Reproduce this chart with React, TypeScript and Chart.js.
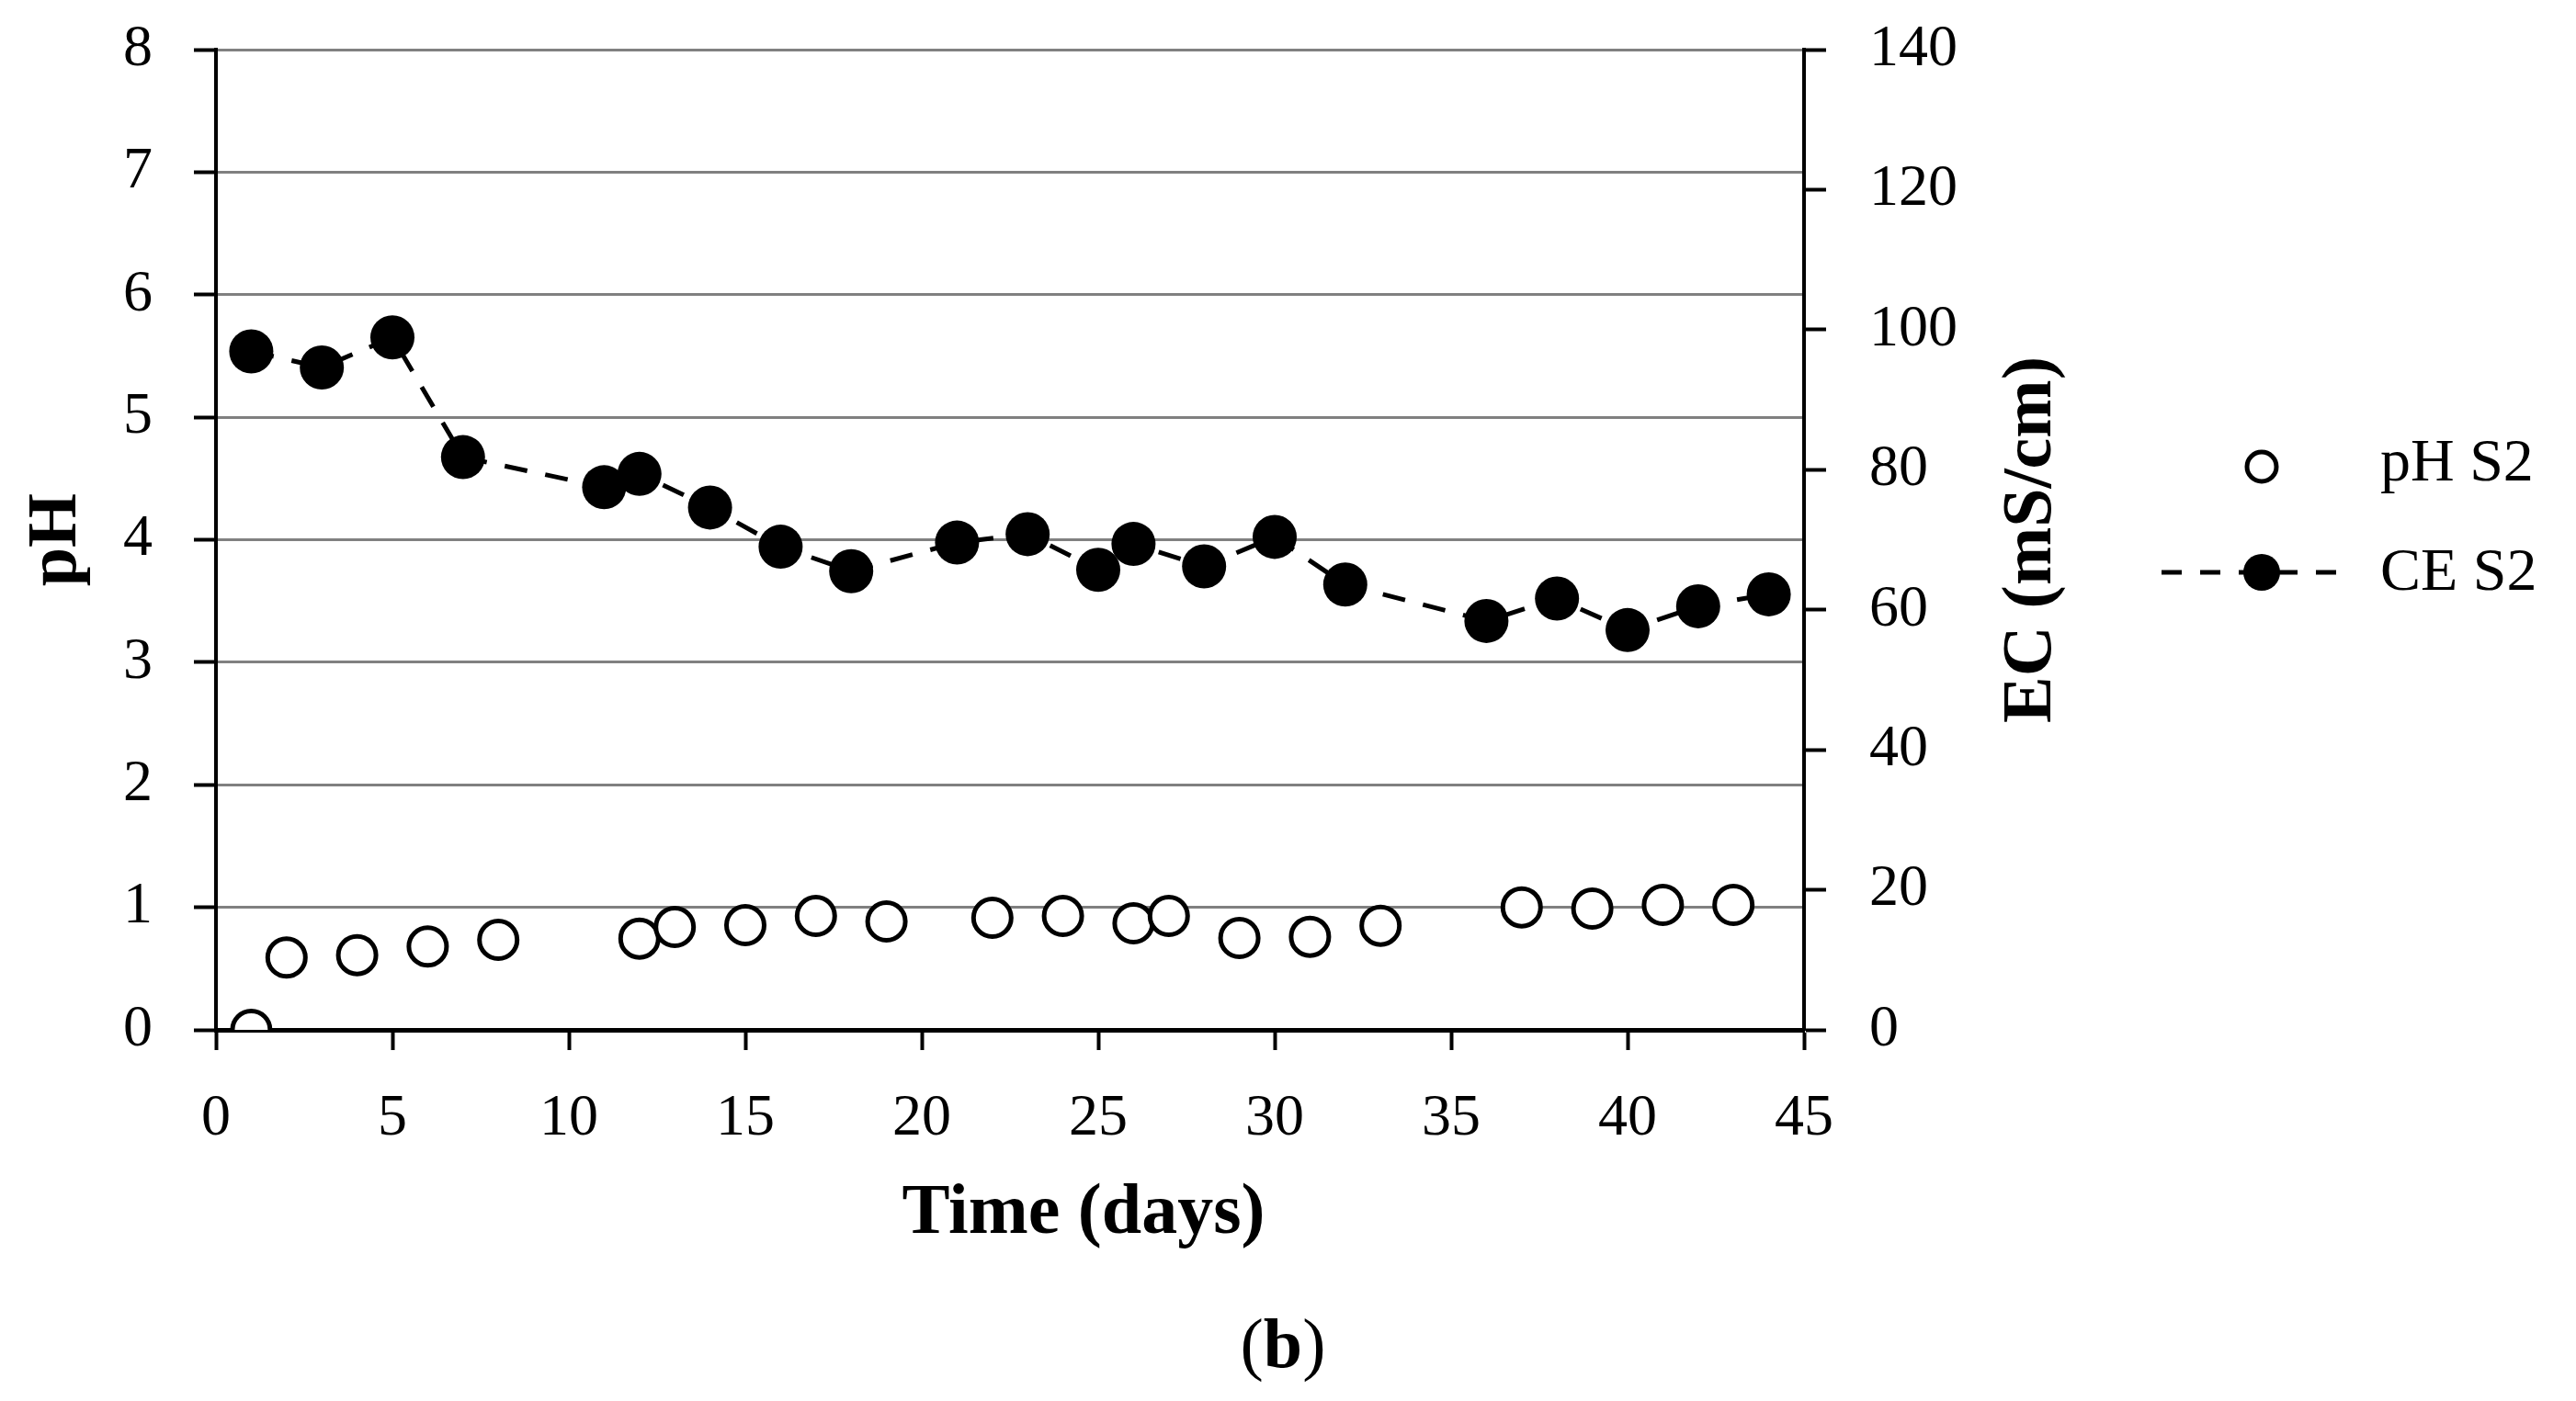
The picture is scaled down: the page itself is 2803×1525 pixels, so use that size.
import React, { useEffect, useRef } from "react";
import { Chart, registerables } from "chart.js";

Chart.register(...registerables);

// ---- data ----
const phDays = [1, 2, 4, 6, 8, 12, 13, 15, 17, 19, 22, 24, 26, 27, 29, 31, 33, 37, 39, 41, 43];
const phValues = [0, 0.59, 0.61, 0.68, 0.735, 0.745, 0.84, 0.855, 0.93, 0.885, 0.915, 0.93, 0.87, 0.93, 0.75, 0.76, 0.85, 1.0, 0.99, 1.02, 1.02];
const ecDays = [1, 3, 5, 7, 11, 12, 14, 16, 18, 21, 23, 25, 26, 28, 30, 32, 36, 38, 40, 42, 44];
const ecValues = [96.9, 94.6, 98.9, 81.8, 77.5, 79.4, 74.6, 69.0, 65.5, 69.6, 70.8, 65.7, 69.4, 66.2, 70.4, 63.6, 58.4, 61.6, 57.1, 60.5, 62.2];

const seriesLabels = ["pH S2", "CE S2"];
const xTitle = "Time (days)";
const yTitle = "pH";
const y2Title = "EC (mS/cm)";
const captionLetter = "b";

const SERIF = "'Liberation Serif', 'Times New Roman', serif";

export default function App() {
  const ref = useRef<HTMLCanvasElement>(null);

  useEffect(() => {
    document.body.style.margin = "0";
    document.body.style.overflow = "hidden";
    const canvas = ref.current;
    if (!canvas) return;

    const extras = {
      id: "extras",
      afterDraw(chart: any) {
        const ctx = chart.ctx as CanvasRenderingContext2D;
        const area = chart.chartArea;
        // x axis title (offset right, as in the original layout)
        ctx.save();
        ctx.fillStyle = "#000";
        ctx.font = `bold 78px ${SERIF}`;
        ctx.textAlign = "center";
        ctx.textBaseline = "middle";
        ctx.fillText(xTitle, 1179, 1322);
        ctx.restore();

        // right axis title (reads bottom-to-top)
        ctx.save();
        ctx.fillStyle = "#000";
        ctx.font = `bold 76px ${SERIF}`;
        ctx.translate(2211, (area.top + area.bottom) / 2);
        ctx.rotate(-Math.PI / 2);
        ctx.textAlign = "center";
        ctx.textBaseline = "middle";
        ctx.fillText(y2Title, 0, 0);
        ctx.restore();

        // legend
        ctx.save();
        const mx = 2461;
        ctx.beginPath();
        ctx.arc(mx, 508, 16, 0, Math.PI * 2);
        ctx.fillStyle = "#fff";
        ctx.fill();
        ctx.lineWidth = 5;
        ctx.strokeStyle = "#000";
        ctx.stroke();
        ctx.beginPath();
        ctx.setLineDash([22, 20]);
        ctx.lineWidth = 5;
        ctx.moveTo(2352, 623);
        ctx.lineTo(2562, 623);
        ctx.stroke();
        ctx.setLineDash([]);
        ctx.beginPath();
        ctx.arc(mx, 623, 20, 0, Math.PI * 2);
        ctx.fillStyle = "#000";
        ctx.fill();
        ctx.font = `66px ${SERIF}`;
        ctx.textAlign = "left";
        ctx.textBaseline = "alphabetic";
        ctx.fillText(seriesLabels[0], 2590, 523);
        ctx.fillText(seriesLabels[1], 2590, 642);
        ctx.restore();

        // caption "(b)"
        ctx.save();
        ctx.fillStyle = "#000";
        ctx.textBaseline = "middle";
        ctx.textAlign = "left";
        const reg = `76px ${SERIF}`;
        const bold = `bold 76px ${SERIF}`;
        ctx.font = reg;
        const wp = ctx.measureText("(").width;
        const wp2 = ctx.measureText(")").width;
        ctx.font = bold;
        const wb = ctx.measureText(captionLetter).width;
        const total = wp + wb + wp2;
        let cx = 1396 - total / 2;
        const cy = 1468;
        ctx.font = reg;
        ctx.fillText("(", cx, cy);
        cx += wp;
        ctx.font = bold;
        ctx.fillText(captionLetter, cx, cy);
        cx += wb;
        ctx.font = reg;
        ctx.fillText(")", cx, cy);
        ctx.restore();
      },
    };

    const chart = new Chart(canvas, {
      type: "scatter",
      data: {
        datasets: [
          {
            label: seriesLabels[1],
            type: "line",
            data: ecDays.map((d, i) => ({ x: d, y: ecValues[i] })),
            yAxisID: "y2",
            showLine: true,
            borderColor: "#000",
            borderWidth: 5,
            borderDash: [25, 20],
            pointRadius: 24,
            pointBackgroundColor: "#000",
            pointBorderColor: "#000",
            pointBorderWidth: 0,
            fill: false,
            tension: 0,
          },
          {
            label: seriesLabels[0],
            data: phDays.map((d, i) => ({ x: d, y: phValues[i] })),
            yAxisID: "y",
            showLine: false,
            pointRadius: 20.5,
            pointBorderWidth: 5,
            pointBorderColor: "#000",
            pointBackgroundColor: "#fff",
          },
        ],
      },
      options: {
        responsive: false,
        animation: false,
        devicePixelRatio: 1,
        layout: { padding: { top: 54, right: 670, bottom: 144, left: 0 } },
        plugins: {
          legend: { display: false },
          tooltip: { enabled: false },
        },
        scales: {
          x: {
            type: "linear",
            position: "bottom",
            min: 0,
            max: 45,
            afterFit: (s: any) => {
              s.height = 260;
            },
            ticks: {
              stepSize: 5,
              color: "#000",
              padding: 37,
              font: { family: SERIF, size: 64 },
            },
            grid: {
              drawOnChartArea: false,
              drawTicks: true,
              tickLength: 22,
              tickColor: "#000",
              tickWidth: 4,
            },
            border: { display: true, color: "#000", width: 5 },
            title: { display: false, text: xTitle },
          },
          y: {
            type: "linear",
            position: "left",
            min: 0,
            max: 8,
            afterFit: (s: any) => {
              s.width = 235;
              s.paddingTop = 30;
            },
            ticks: {
              stepSize: 1,
              color: "#000",
              padding: 45,
              font: { family: SERIF, size: 64 },
            },
            grid: {
              color: "#808080",
              lineWidth: 3,
              drawTicks: true,
              tickLength: 24,
              tickColor: "#000",
              tickWidth: 4,
            },
            border: { display: true, color: "#000", width: 4 },
            title: {
              display: true,
              text: yTitle,
              color: "#000",
              font: { family: SERIF, size: 76, weight: "bold" },
              padding: { top: 17, bottom: 0 },
            },
          },
          y2: {
            type: "linear",
            position: "right",
            min: 0,
            max: 140,
            afterFit: (s: any) => {
              s.width = 170;
              s.paddingTop = 30;
            },
            ticks: {
              stepSize: 20,
              color: "#000",
              padding: 47,
              font: { family: SERIF, size: 64 },
            },
            grid: {
              drawOnChartArea: false,
              drawTicks: true,
              tickLength: 24,
              tickColor: "#000",
              tickWidth: 4,
            },
            border: { display: true, color: "#000", width: 4 },
          },
        },
      },
      plugins: [extras],
    } as any);

    return () => {
      chart.destroy();
    };
  }, []);

  return (
    <div style={{ width: 2803, height: 1525, background: "#fff" }}>
      <canvas ref={ref} width={2803} height={1525} style={{ display: "block" }} />
    </div>
  );
}
